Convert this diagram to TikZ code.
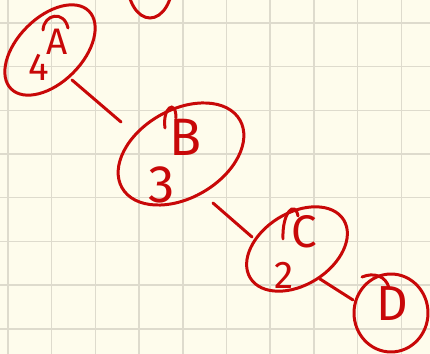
\documentclass[tikz,border=0pt]{standalone}
\usepackage{fontspec}
\setmainfont{Fira Sans}
\usetikzlibrary{shapes.geometric}
\definecolor{paper}{RGB}{254,252,236}
\definecolor{gridline}{RGB}{222,219,205}
\definecolor{ink}{RGB}{200,8,8}

\begin{document}
\begin{tikzpicture}[x=0.02cm,y=-0.02cm,
    ring/.style={draw=ink,line width=1.7pt,ellipse,inner sep=0pt},
    pen/.style={draw=ink,line width=1.7pt,line cap=round},
    lbl/.style={text=ink,inner sep=0pt}]
	  \useasboundingbox (0,0) rectangle (430,354);
	  \clip (0,0) rectangle (430,354);
	  \fill[paper] (0,0) rectangle (430,354);
	  % squared paper
	  \foreach \k in {0,...,9}
	    \draw[gridline,line width=0.8pt] (8+43.7*\k,0) -- (8+43.7*\k,354);
	  \foreach \k in {0,...,7}
	    \draw[gridline,line width=0.8pt] (0,23+43.7*\k) -- (430,23+43.7*\k);
	  % rings
	  \node[ring,minimum width=0.92cm,minimum height=1.52cm] (et) at (150,-20) {};
	  \node[ring,minimum width=2.2cm,minimum height=1.3cm,rotate=45] (ea) at (50,50) {};
	  \node[ring,minimum width=2.72cm,minimum height=1.76cm,rotate=30] (eb) at (181,154) {};
	  \node[ring,minimum width=2.2cm,minimum height=1.44cm,rotate=32] (ec) at (297,249) {};
	  \node[ring,minimum width=1.48cm,minimum height=1.56cm] (ed) at (391,313) {};
	  % letters and numbers
	  \node[lbl,font=\fontsize{21}{21}\selectfont] (la) at (57,42) {A};
	  \node[lbl,font=\fontsize{22}{22}\selectfont] (l4) at (39,67) {4};
	  \node[lbl,font=\fontsize{30}{30}\selectfont] (lb) at (186,137) {B};
	  \node[lbl,font=\fontsize{30}{30}\selectfont] (l3) at (162,185) {3};
	  \node[lbl,font=\fontsize{26}{26}\selectfont] (lc) at (304,232) {C};
	  \node[lbl,font=\fontsize{22}{22}\selectfont] (l2) at (284,275) {2};
	  \node[lbl,font=\fontsize{28}{28}\selectfont] (ld) at (392,304) {D};
	  % pen hooks
	  \draw[pen] (43,30) .. controls (44,14) and (64,10) .. (68,28);
	  \draw[pen] (165,128) .. controls (162,108) and (176,98) .. (176,118);
	  \draw[pen] (283,239) .. controls (282,212) and (295,200) .. (298,216);
	  \draw[pen] (362,277) .. controls (374,272) and (386,276) .. (389,288);
	  % links
	  \draw[pen] ([shift={(22,30)}]ea.center) -- ([shift={(-60,-32)}]eb.center);
	  \draw[pen] ([shift={(32,49)}]eb.center) -- ([shift={(-45,-12)}]ec.center);
	  \draw[pen] ([shift={(23,30)}]ec.center) -- ([shift={(-38,-13)}]ed.center);
	\end{tikzpicture}
\end{document}
